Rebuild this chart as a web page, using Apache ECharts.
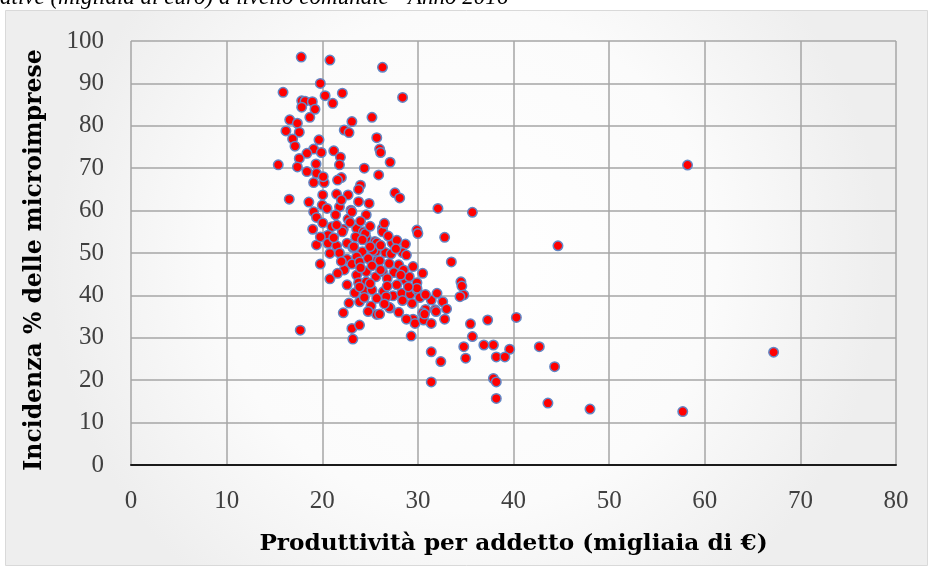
<!DOCTYPE html>
<html>
<head>
<meta charset="utf-8">
<script src="https://cdn.jsdelivr.net/npm/echarts@6/dist/echarts.min.js"></script>
<style>
  html, body { margin: 0; padding: 0; background: #ffffff; }
  #chart { width: 933px; height: 573px; }
</style>
</head>
<body>
<div id="chart"></div>
<script>
// Produttività per addetto (migliaia di €) per comune
const productivity = [
  17.8, 20.8, 26.3, 19.8, 15.9, 20.3, 22.1, 21.1, 28.4,
  17.85, 18.2, 18.96, 17.85, 19.24, 18.7, 16.6, 17.4, 16.2, 17.6, 16.9, 17.15, 19.66, 19.1, 18.4, 19.9, 17.6, 15.4, 17.4, 19.35, 18.4, 19.1, 20.2, 20.05, 16.55, 20.0, 19.1, 19.4, 20.05, 19.0,
  23.1, 25.2, 22.3, 22.8, 25.7, 26.0, 26.1, 21.2, 21.9, 21.8, 27.1, 24.4, 25.9, 19.4, 20.1, 22.0, 21.6, 24.0, 23.8, 27.6, 28.1, 21.5, 22.7, 23.8, 24.9, 21.8, 23.0, 24.6, 21.4, 22.7, 32.1, 35.7, 21.0, 22.2, 26.3, 29.9,
  23.1, 22.1, 23.6, 24.3, 20.6, 23.5, 24.6, 25.5, 19.4, 20.6, 21.5, 22.6, 23.2, 24.2, 20.8, 25.6, 22.6, 23.6, 19.8, 23.1, 23.9, 25.7, 22.3, 23.6, 24.6, 25.6, 20.8, 23.8, 24.6, 24.4, 25.2, 23.4, 25.7, 23.9, 25.1, 25.7, 22.2, 17.7, 23.1, 23.9, 23.2,
  24.5, 26.3, 30.0, 32.8, 23.3, 24.2, 25.7, 27.3, 28.7, 26.6, 27.2, 28.4, 28.8, 33.5, 26.0, 28.0, 26.3, 27.5, 28.7, 29.1, 29.9, 30.5, 26.4, 27.4, 28.3, 29.2, 29.4, 29.9, 26.0, 27.1, 31.4, 30.8, 31.8, 32.6, 30.5, 29.5, 29.3, 31.4, 32.4, 31.4, 34.5, 34.6, 34.8, 34.4, 35.5, 35.7, 34.8, 35.0, 37.3, 36.9, 37.9, 38.2, 37.9, 38.2, 38.2,
  40.3, 39.6, 39.1, 42.7, 44.3, 43.6, 29.7, 30.6, 31.4, 32.8, 31.9, 30.7, 28.8, 29.9,
  48.0, 57.7, 58.2, 67.2, 44.65,
  25.3, 26.1, 26.7, 27.0, 23.9, 21.5,
  22.9, 24.0, 25.0, 26.9, 27.8, 25.0, 26.1, 27.7, 21.8, 22.0, 24.8, 25.2, 27.0, 28.5, 29.5, 21.6, 24.0, 26.8, 27.8, 28.2, 22.6, 25.0, 26.8, 29.0, 30.2, 24.4, 28.4, 26.5, 28.0, 24.8, 22.8, 30.8, 32.0, 33.0, 20.5, 22.0, 18.6, 19.8, 21.2, 26.5
];

// Incidenza % delle microimprese, nello stesso ordine
const microShare = [
  96.2, 95.5, 93.8, 90.0, 87.9, 87.1, 87.7, 85.3, 86.7,
  85.9, 85.8, 85.7, 84.4, 83.9, 82.0, 81.4, 80.6, 78.8, 78.5, 76.9, 75.2, 76.7, 74.5, 73.5, 73.7, 72.3, 70.8, 70.3, 71.0, 69.2, 66.6, 66.6, 63.7, 62.7, 61.3, 59.7, 58.4, 57.1, 55.6,
  81.0, 82.0, 79.0, 78.4, 77.2, 74.5, 73.7, 74.1, 72.6, 70.8, 71.4, 70.0, 68.4, 68.8, 68.0, 67.8, 67.2, 66.0, 65.0, 64.2, 63.0, 63.9, 63.7, 62.1, 61.7, 60.9, 60.1, 59.0, 59.0, 58.0, 60.5, 59.6, 56.2, 55.6, 55.8, 55.4,
  59.7, 55.0, 55.8, 55.0, 54.2, 53.8, 53.5, 52.7, 51.9, 52.3, 51.7, 52.3, 51.3, 50.3, 49.9, 50.3, 48.5, 49.1, 47.4, 47.4, 47.9, 48.2, 46.0, 44.8, 45.6, 44.4, 43.9, 43.0, 43.2, 41.3, 41.3, 40.6, 39.3, 38.5, 37.5, 35.5, 35.9, 31.8, 32.2, 33.0, 29.7,
  54.6, 55.0, 54.6, 53.7, 51.5, 53.1, 52.4, 52.4, 52.1, 50.1, 49.8, 50.1, 49.5, 47.9, 48.2, 47.2, 45.6, 45.4, 43.6, 44.4, 43.0, 45.2, 40.9, 39.9, 40.5, 40.3, 38.1, 41.3, 35.6, 37.0, 38.9, 36.7, 36.6, 38.5, 35.9, 34.4, 30.4, 26.7, 24.4, 19.6, 43.2, 42.2, 40.1, 39.7, 33.3, 30.3, 27.9, 25.2, 34.2, 28.3, 28.3, 25.5, 20.4, 19.6, 15.7,
  34.8, 27.3, 25.5, 27.9, 23.2, 14.6, 33.4, 34.2, 33.4, 34.4, 36.2, 35.6, 34.4, 41.7,
  13.2, 12.6, 70.75, 26.6, 51.7,
  50.6, 46.0, 39.7, 37.2, 42.0, 56.6,
  57.2, 57.5, 56.3, 54.0, 53.0, 51.5, 51.8, 51.0, 50.0, 48.0, 48.7, 47.0, 47.5, 46.0, 46.8, 45.2, 46.5, 44.0, 42.5, 44.8, 42.5, 42.8, 42.2, 42.0, 39.5, 39.5, 38.8, 38.0, 36.0, 36.2, 38.2, 40.2, 40.5, 36.8, 60.5, 62.5, 62.0, 53.8, 53.6, 57.0
];

const xTitle = 'Produttività per addetto (migliaia di €)';
const yTitle = 'Incidenza % delle microimprese';
const headline = 'ative (migliaia di euro) a livello comunale - Anno 2016';

const points = productivity.map((x, i) => [x, microShare[i]]);

const serif = '"Liberation Serif", "DejaVu Serif", serif';
const wideSerif = '"DejaVu Serif", "Liberation Serif", serif';

const chart = echarts.init(document.getElementById('chart'), null, { renderer: 'canvas' });

chart.setOption({
  animation: false,
  backgroundColor: '#ffffff',
  graphic: [
    {
      type: 'rect',
      z: -10,
      shape: { x: 5.5, y: 10.5, width: 922, height: 555 },
      style: {
        fill: {
          type: 'radial', x: 0.5, y: 0.45, r: 0.75,
          colorStops: [
            { offset: 0, color: '#ffffff' },
            { offset: 0.6, color: '#fbfbfb' },
            { offset: 1, color: '#eeeeee' }
          ]
        },
        stroke: '#d9d9d9',
        lineWidth: 1
      }
    },
    {
      type: 'text',
      left: 0,
      top: -14,
      style: {
        text: headline,
        font: 'italic 23px ' + serif,
        fill: '#000000'
      }
    },
    {
      // vertical axis title
      type: 'text',
      x: 35,
      y: 260,
      rotation: Math.PI / 2,
      style: {
        text: yTitle,
        font: 'bold 23.5px ' + wideSerif,
        fill: '#000000',
        align: 'center',
        verticalAlign: 'middle'
      }
    }
  ],
  grid: { left: 131, right: 37, top: 41, bottom: 108, containLabel: false },
  xAxis: {
    type: 'value',
    min: 0, max: 80, interval: 10,
    name: xTitle,
    nameLocation: 'middle',
    nameGap: 67,
    nameTextStyle: { fontFamily: wideSerif, fontWeight: 'bold', fontSize: 23.2, color: '#000000' },
    axisLine: { show: true, onZero: false, lineStyle: { color: '#1a1a1a', width: 2 } },
    axisTick: { show: false },
    axisLabel: { margin: 24, fontFamily: serif, fontSize: 25, color: '#404040' },
    splitLine: { show: true, lineStyle: { color: '#a6a6a6', width: 1.5 } }
  },
  yAxis: {
    type: 'value',
    min: 0, max: 100, interval: 10,
    axisLine: { show: false },
    axisTick: { show: false },
    axisLabel: { margin: 27, fontFamily: serif, fontSize: 25, color: '#404040' },
    splitLine: { show: true, lineStyle: { color: '#a6a6a6', width: 1.5 } }
  },
  series: [
    {
      type: 'scatter',
      data: points,
      symbol: 'circle',
      symbolSize: 9.5,
      itemStyle: { color: '#ff0000', borderColor: '#6287c6', borderWidth: 1.5, opacity: 1 }
    }
  ]
});
</script>
</body>
</html>
